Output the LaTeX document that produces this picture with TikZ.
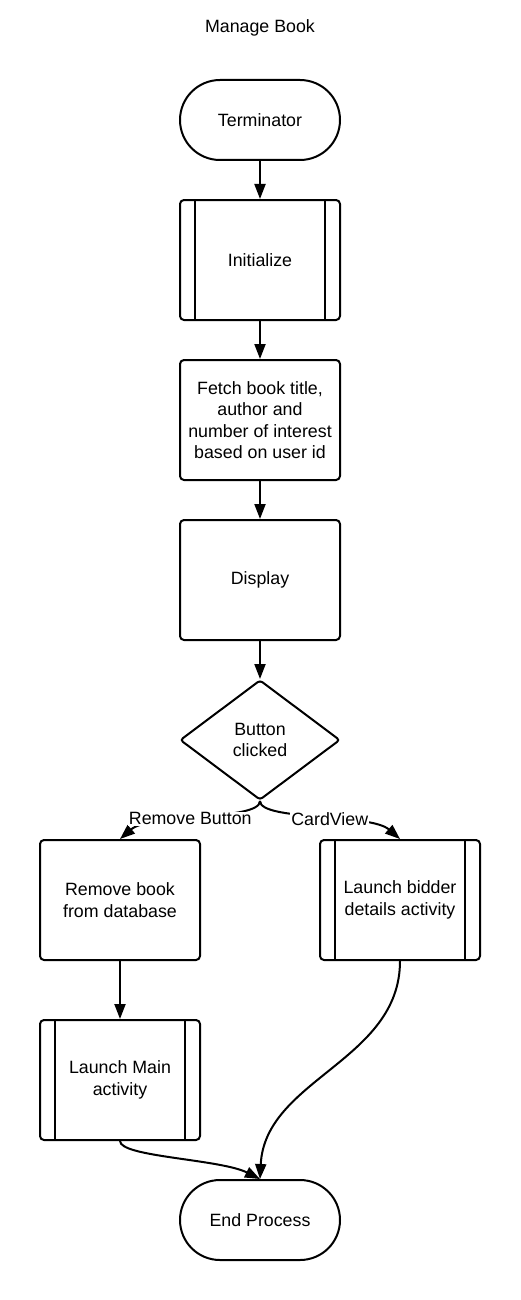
\documentclass[tikz,border=0pt]{standalone}
\usepackage{fontspec}
\setmainfont{Liberation Sans}
\usetikzlibrary{arrows.meta,shapes.geometric,shapes.misc}
\tikzset{
  txt/.style={font=\fontsize{17.8}{21.4}\selectfont},
  base/.style={draw=black, line width=2pt, align=center, txt, inner sep=0pt},
  procbox/.style={base, rectangle, rounded corners=4pt, minimum width=160pt, minimum height=120pt},
  termbox/.style={base, rounded rectangle, minimum width=160pt, minimum height=80pt},
  decbox/.style={base, diamond, rounded corners=3pt, minimum width=160pt, minimum height=120pt, aspect=1.3333},
  conn/.style={line width=2pt, -{Triangle[length=15pt,width=11pt]}},
  lbl/.style={fill=white, inner sep=1pt, txt},
  inner/.style={line width=2pt}
}
\begin{document}
\begin{tikzpicture}[x=1pt,y=-1pt]
\useasboundingbox (0,0) rectangle (520,1300);
\node[txt] (title) at (260,28) {Manage Book};
\node[termbox] (term) at (260,120) {Terminator};
\node[procbox] (init) at (260,260) {Initialize};
\node[procbox] (fetch) at (260,420) {Fetch book title,\\author and\\number of interest\\based on user id};
\node[procbox] (disp) at (260,580) {Display};
\node[decbox] (dec) at (260,740) {Button\\clicked};
\node[procbox] (remove) at (120,900) {Remove book\\from database};
\node[procbox] (bidder) at (400,900) {Launch bidder\\details activity};
\node[procbox] (main) at (120,1080) {Launch Main\\activity};
\node[termbox] (endp) at (260,1220) {End Process};
% predefined process inner lines
\foreach \n in {init,bidder,main}{
  \draw[inner] ([xshift=16pt]\n.north west) -- ([xshift=16pt]\n.south west);
  \draw[inner] ([xshift=-16pt]\n.north east) -- ([xshift=-16pt]\n.south east);
}
\draw[conn] (term.south) -- (init.north);
\draw[conn] (init.south) -- (fetch.north);
\draw[conn] (fetch.south) -- (disp.north);
\draw[conn] (disp.south) -- (dec.north);
\draw[conn] (dec.south) .. controls +(0,20) and +(30,-26) .. node[lbl, pos=0.5, xshift=-11pt, yshift=-1pt] (lrem) {Remove Button} (remove.north);
\draw[conn] (dec.south) .. controls +(0,20) and +(-30,-26) .. node[lbl, pos=0.5, xshift=11pt, yshift=-1pt] (lcard) {CardView} (bidder.north);
\draw[conn] (remove.south) -- (main.north);
\draw[conn] (main.south) .. controls +(0,16) and +(-40,-20) .. (endp.north);
\draw[conn] (bidder.south) .. controls +(0,100) and +(5,-100) .. (endp.north);
\end{tikzpicture}
\end{document}
